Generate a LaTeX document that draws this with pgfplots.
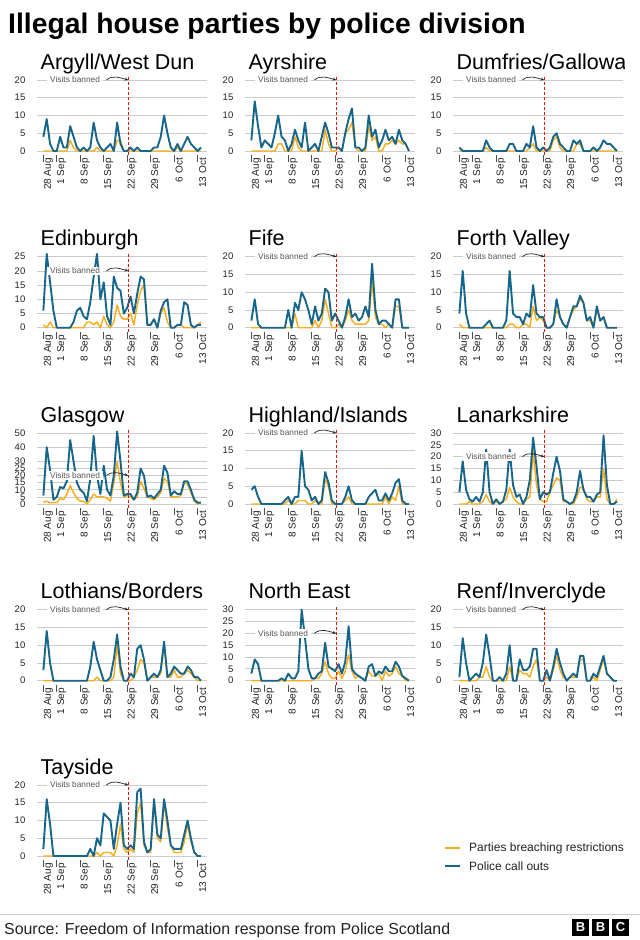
\documentclass[border=0pt]{standalone}
\usepackage{fontspec}
\setmainfont{Liberation Sans}
\usepackage{pgfplots}
\pgfplotsset{compat=1.18}
\usetikzlibrary{arrows.meta}
\definecolor{cblue}{HTML}{16658A}
\definecolor{corange}{HTML}{FAAB18}
\definecolor{cgrid}{HTML}{CBCBCB}
\definecolor{ctxt}{HTML}{222222}
\definecolor{clab}{HTML}{555555}
\definecolor{cred}{HTML}{E3120B}
\pgfplotsset{
  table/daily/.style={row sep=\\, header=false, x expr=\coordindex, y index=0},
  panel/.style={
    scale only axis, width=170pt, height=71pt,
    xmin=-1.9, xmax=48.8, ymin=0,
    axis line style={draw=none},
    ymajorgrids, grid style={draw=cgrid, line width=0.8pt},
    xtick={0,4,11,18,25,32,39,46},
    xticklabels={28 Aug,1 Sep,8 Sep,15 Sep,22 Sep,29 Sep,6 Oct,13 Oct},
    tick align=outside, major tick length=7pt, tick pos=left,
    xtick style={draw=ctxt!80, line width=0.8pt, yshift=-4pt},
    ytick style={draw=none},
    xticklabel style={rotate=90, anchor=east, inner sep=0pt, yshift=-5pt, font=\fontsize{10}{11}\selectfont, text=ctxt},
    yticklabel style={anchor=east, inner sep=0pt, xshift=-4.5pt, font=\fontsize{9.5}{10}\selectfont, text=ctxt},
    /pgf/number format/assume math mode=true,
    clip=false,
  },
  ob/.style={draw=corange, line width=1.4pt, line join=round, mark=none},
  bb/.style={draw=cblue, line width=1.9pt, line join=round, mark=none},
}
% #1 x0, #2 zero-line y, #3 ymax, #4 yticks, #5 title, #6 blue data, #7 orange data
\newcommand\panel[7]{%
  \begin{axis}[panel, at={(#1pt,-#2pt)}, anchor=south west, ymax=#3, ytick={#4}]
    \addplot[ob] table[daily]{#7};
    \addplot[bb] table[daily]{#6};
    \draw[cred, line width=0.9pt, dash pattern=on 3pt off 2pt] ([yshift=-4pt]axis cs:25.5,0) -- ([yshift=5pt]axis cs:25.5,#3);
    \node[fill=white, anchor=west, inner xsep=3.3pt, inner ysep=1.2pt, font=\fontsize{8.3}{9}\selectfont, text=clab] at (axis cs:1,20) {Visits banned};
    \draw[-{Stealth[length=3.5pt,width=3pt]}, line width=0.7pt, draw=ctxt] (axis cs:18.8,20) to[out=40,in=165] (axis cs:25.3,20);
  \end{axis}
  \begin{scope}
    \clip (#1pt-5pt,-#2pt+72pt) rectangle (#1pt+171pt,-#2pt+105pt);
    \node[anchor=base west, inner sep=0pt, font=\fontsize{21.5}{24}\selectfont, text=black] at (#1pt+3.5pt,-#2pt+82pt) {#5};
  \end{scope}
}
\begin{document}
\begin{tikzpicture}
\path[fill=white, use as bounding box] (0,0) rectangle (640pt,-940pt);
\node[anchor=base west, inner sep=0pt, font=\fontsize{28.3}{32}\bfseries\selectfont] at (8pt,-33pt) {Illegal house parties by police division};

% Row 1
\panel{37}{151}{20}{0,5,10,15,20}{Argyll/West Dun}
{4\\9\\2\\0\\0\\4\\1\\1\\7\\4\\1\\0\\1\\0\\1\\8\\3\\1\\0\\1\\2\\0\\8\\2\\0\\0\\1\\0\\1\\0\\0\\0\\0\\1\\1\\4\\10\\5\\1\\0\\2\\0\\2\\4\\2\\1\\0\\1\\}
{0\\0\\0\\0\\0\\0\\0\\0\\3\\1\\0\\0\\0\\0\\0\\0\\1\\0\\0\\0\\0\\0\\3\\3\\0\\0\\0\\0\\0\\0\\0\\0\\0\\0\\0\\0\\0\\0\\0\\0\\1\\0\\0\\0\\0\\0\\0\\0\\}
\panel{245}{151}{20}{0,5,10,15,20}{Ayrshire}
{3\\14\\7\\1\\3\\2\\1\\5\\10\\4\\3\\0\\2\\6\\3\\1\\8\\0\\1\\2\\0\\4\\8\\5\\1\\1\\1\\0\\5\\9\\12\\1\\1\\0\\1\\10\\4\\6\\1\\3\\6\\3\\4\\2\\6\\3\\2\\0\\}
{0\\0\\0\\0\\0\\0\\0\\0\\2\\2\\0\\0\\0\\4\\1\\0\\0\\0\\0\\0\\0\\0\\6\\2\\0\\0\\1\\0\\5\\6\\8\\1\\0\\0\\0\\7\\3\\4\\0\\0\\2\\2\\3\\2\\3\\2\\2\\0\\}
\panel{453}{151}{20}{0,5,10,15,20}{Dumfries/Galloway}
{1\\0\\0\\0\\0\\0\\0\\0\\3\\1\\0\\0\\0\\0\\0\\2\\2\\0\\0\\0\\2\\1\\7\\1\\0\\1\\0\\1\\4\\5\\2\\1\\0\\0\\3\\2\\3\\0\\0\\0\\1\\0\\1\\3\\2\\2\\1\\0\\}
{0\\0\\0\\0\\0\\0\\0\\0\\1\\0\\0\\0\\0\\0\\0\\0\\0\\0\\0\\0\\0\\1\\2\\0\\0\\0\\0\\0\\3\\4\\1\\0\\0\\0\\0\\2\\2\\0\\0\\0\\0\\0\\0\\0\\0\\0\\0\\0\\}
% Row 2
\panel{37}{327.7}{25}{0,5,10,15,20,25}{Edinburgh}
{6\\26\\16\\6\\0\\0\\0\\0\\0\\2\\6\\7\\4\\3\\9\\18\\26\\10\\16\\4\\1\\18\\14\\13\\5\\7\\11\\5\\12\\18\\17\\1\\1\\3\\0\\6\\9\\10\\0\\0\\1\\1\\9\\8\\1\\0\\1\\1\\}
{1\\0\\2\\0\\0\\0\\0\\0\\0\\0\\0\\0\\0\\2\\2\\1\\2\\0\\4\\1\\0\\2\\8\\4\\3\\3\\5\\1\\8\\13\\15\\1\\1\\3\\0\\5\\7\\2\\0\\0\\1\\1\\0\\0\\0\\0\\1\\2\\}
\panel{245}{327.7}{20}{0,5,10,15,20}{Fife}
{2\\8\\1\\0\\0\\0\\0\\0\\0\\0\\0\\5\\0\\7\\5\\10\\8\\5\\1\\6\\2\\4\\11\\10\\2\\4\\2\\0\\3\\8\\3\\4\\2\\3\\6\\3\\18\\5\\1\\2\\2\\1\\0\\8\\8\\0\\0\\0\\}
{0\\0\\0\\0\\0\\0\\0\\0\\0\\0\\0\\0\\0\\4\\0\\0\\0\\0\\0\\2\\0\\2\\8\\4\\0\\0\\1\\0\\2\\5\\2\\1\\1\\1\\1\\2\\13\\3\\1\\1\\0\\1\\0\\6\\6\\0\\0\\0\\}
\panel{453}{327.7}{20}{0,5,10,15,20}{Forth Valley}
{4\\16\\4\\0\\0\\0\\0\\0\\1\\2\\0\\0\\0\\0\\2\\16\\4\\3\\3\\1\\4\\3\\12\\4\\3\\3\\0\\0\\1\\8\\3\\1\\0\\3\\6\\6\\9\\7\\2\\3\\0\\6\\2\\3\\0\\0\\0\\0\\}
{1\\0\\0\\0\\0\\0\\0\\0\\0\\0\\0\\0\\0\\0\\0\\1\\1\\0\\0\\1\\1\\0\\6\\2\\3\\2\\0\\0\\1\\5\\3\\1\\0\\3\\5\\6\\8\\7\\2\\2\\0\\5\\2\\3\\0\\0\\0\\0\\}
% Row 3
\panel{37}{504}{50}{0,5,10,15,20,25,30,40,50}{Glasgow}
{6\\40\\24\\3\\5\\12\\11\\16\\45\\30\\15\\10\\8\\2\\18\\48\\20\\7\\27\\10\\6\\20\\51\\30\\6\\7\\7\\3\\8\\25\\20\\5\\6\\4\\7\\10\\27\\22\\6\\9\\7\\7\\16\\16\\10\\3\\1\\1\\}
{1\\2\\1\\1\\1\\4\\3\\7\\13\\8\\4\\2\\2\\0\\3\\7\\5\\5\\5\\4\\2\\15\\30\\15\\5\\6\\5\\3\\5\\16\\11\\5\\4\\3\\5\\8\\18\\16\\5\\5\\5\\6\\15\\14\\8\\2\\0\\1\\}
\panel{245}{504}{20}{0,5,10,15,20}{Highland/Islands}
{4\\5\\2\\0\\0\\0\\0\\0\\0\\0\\1\\2\\0\\2\\2\\15\\5\\4\\1\\2\\0\\1\\9\\6\\1\\0\\0\\0\\2\\5\\1\\0\\0\\0\\0\\2\\3\\4\\1\\1\\3\\1\\3\\6\\7\\1\\0\\0\\}
{0\\0\\0\\0\\0\\0\\0\\0\\0\\0\\0\\1\\0\\0\\1\\1\\1\\0\\0\\1\\0\\0\\7\\5\\0\\0\\0\\0\\1\\2\\0\\0\\0\\0\\0\\0\\0\\0\\0\\0\\2\\0\\2\\1\\5\\0\\0\\0\\}
\panel{453}{504}{30}{0,5,10,15,20,25,30}{Lanarkshire}
{5\\18\\6\\2\\1\\3\\1\\5\\23\\5\\0\\2\\0\\1\\6\\23\\8\\3\\4\\0\\3\\10\\28\\16\\2\\5\\4\\5\\13\\20\\14\\2\\1\\0\\1\\5\\14\\6\\3\\3\\1\\4\\5\\29\\8\\0\\0\\1\\}
{0\\0\\0\\1\\0\\0\\0\\1\\4\\1\\0\\1\\0\\1\\2\\7\\3\\1\\0\\0\\2\\3\\22\\8\\2\\1\\1\\5\\8\\11\\10\\1\\1\\0\\0\\3\\7\\7\\2\\1\\1\\3\\3\\15\\2\\0\\0\\2\\}
% Row 4
\panel{37}{680.7}{20}{0,5,10,15,20}{Lothians/Borders}
{3\\14\\5\\0\\0\\0\\0\\0\\0\\0\\0\\0\\0\\0\\4\\11\\6\\3\\0\\0\\1\\6\\13\\4\\0\\0\\2\\1\\9\\10\\6\\0\\1\\2\\1\\3\\11\\1\\2\\4\\3\\2\\2\\4\\3\\1\\1\\0\\}
{0\\0\\0\\0\\0\\0\\0\\0\\0\\0\\0\\0\\0\\0\\0\\0\\1\\0\\0\\0\\0\\1\\10\\2\\0\\0\\0\\1\\3\\6\\5\\0\\1\\1\\1\\2\\10\\1\\1\\3\\1\\1\\2\\3\\2\\1\\0\\0\\}
\panel{245}{680.7}{30}{0,5,10,15,20,25,30}{North East}
{3\\9\\7\\0\\0\\0\\0\\0\\0\\1\\0\\3\\1\\1\\4\\30\\18\\5\\1\\1\\3\\4\\16\\6\\5\\4\\7\\3\\8\\23\\5\\3\\2\\1\\0\\6\\7\\2\\4\\3\\6\\4\\4\\8\\6\\2\\1\\0\\}
{0\\0\\0\\0\\0\\0\\0\\0\\0\\0\\0\\0\\0\\0\\0\\0\\0\\0\\0\\1\\1\\3\\8\\3\\1\\1\\4\\1\\4\\11\\4\\1\\2\\1\\0\\4\\2\\2\\3\\0\\4\\2\\3\\6\\3\\2\\0\\0\\}
\panel{453}{680.7}{20}{0,5,10,15,20}{Renf/Inverclyde}
{1\\12\\5\\0\\1\\2\\1\\5\\13\\7\\0\\0\\1\\0\\2\\10\\0\\0\\6\\3\\3\\4\\9\\9\\0\\0\\3\\0\\4\\9\\5\\2\\0\\1\\2\\1\\7\\7\\0\\0\\2\\1\\4\\7\\2\\1\\0\\0\\}
{0\\0\\0\\0\\0\\0\\1\\1\\4\\1\\0\\0\\0\\0\\0\\4\\0\\0\\3\\2\\2\\1\\4\\6\\0\\0\\1\\0\\3\\7\\3\\1\\0\\1\\1\\1\\6\\6\\0\\0\\1\\0\\3\\6\\2\\1\\0\\0\\}
% Row 5
\panel{37}{856}{20}{0,5,10,15,20}{Tayside}
{2\\16\\9\\0\\0\\0\\0\\0\\0\\0\\0\\0\\0\\0\\2\\0\\5\\3\\12\\11\\10\\2\\9\\15\\3\\2\\3\\2\\18\\19\\4\\1\\2\\16\\6\\5\\16\\10\\3\\2\\2\\2\\6\\10\\5\\1\\0\\0\\}
{0\\0\\0\\0\\0\\0\\0\\0\\0\\0\\0\\0\\0\\0\\0\\0\\1\\0\\1\\1\\1\\0\\3\\9\\2\\1\\2\\1\\12\\15\\3\\1\\1\\15\\5\\4\\15\\8\\3\\1\\1\\1\\4\\9\\4\\1\\0\\0\\}

% Legend
\draw[corange, line width=1.6pt] (445pt,-848pt) -- (460pt,-848pt);
\node[anchor=west, inner sep=0pt, font=\fontsize{12}{14}\selectfont, text=ctxt] at (469pt,-848pt) {Parties breaching restrictions};
\draw[cblue, line width=1.6pt] (445pt,-866pt) -- (460pt,-866pt);
\node[anchor=west, inner sep=0pt, font=\fontsize{12}{14}\selectfont, text=ctxt] at (469pt,-866pt) {Police call outs};

% Footer
\draw[cgrid, line width=0.8pt] (0pt,-914pt) -- (640pt,-914pt);
\node[anchor=base west, inner sep=0pt, font=\fontsize{15.9}{18}\selectfont, text=ctxt] at (4pt,-934pt) {Source: Freedom of Information response from Police Scotland};
\foreach \i/\c in {0/B,1/B,2/C}{
  \fill[black] (572pt+\i*20pt,-919pt) rectangle ++(17pt,-17pt);
  \node[text=white, font=\fontsize{13}{14}\bfseries\selectfont, inner sep=0pt] at (580.5pt+\i*20pt,-927.5pt) {\c};
}
\end{tikzpicture}
\end{document}
